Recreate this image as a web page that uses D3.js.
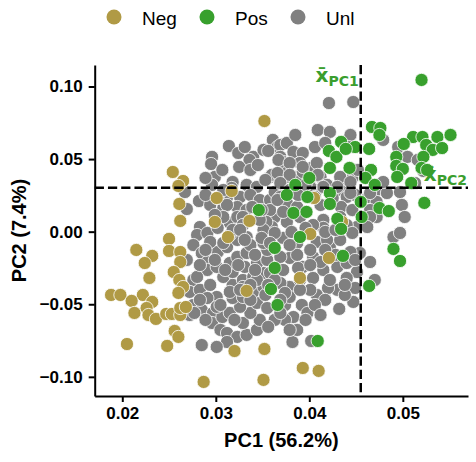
<!DOCTYPE html>
<html lang="en">
<head>
<meta charset="UTF-8">
<title>PCA scatter</title>
<script src="https://d3js.org/d3.v7.min.js"></script>
<style>
  body { margin: 0; background: #fff; }
  svg { display: block; }
  .tick text { font-family: "Liberation Sans", Arial, sans-serif; font-weight: bold; font-size: 17px; fill: #000; }
  .axis-label { font-family: "Liberation Sans", Arial, sans-serif; font-weight: bold; font-size: 20px; }
  .legend text { font-family: "Liberation Sans", Arial, sans-serif; font-size: 19px; }
  .anno { font-family: "DejaVu Sans", sans-serif; font-weight: bold; fill: #3a9e2e; }
</style>
</head>
<body>
<svg id="chart" width="476" height="462"></svg>
<script>
// values: [PC1, PC2]
const negPoints = [
  [0.0352,0.0762],[0.0254,0.0411],[0.0265,0.0349],[0.0260,0.0315],[0.0301,0.0232],[0.0317,0.0280],
  [0.0261,0.0191],[0.0262,0.0074],[0.0299,0.0067],[0.0336,0.0074],[0.0250,-0.0050],[0.0313,-0.0037],
  [0.0215,-0.0126],[0.0232,-0.0167],[0.0224,-0.0216],[0.0250,-0.0133],[0.0262,-0.0140],[0.0262,-0.0209],
  [0.0255,-0.0278],[0.0229,-0.0319],[0.0261,-0.0333],[0.0265,-0.0381],[0.0260,-0.0422],[0.0188,-0.0436],
  [0.0198,-0.0436],[0.0222,-0.0436],[0.0210,-0.0477],[0.0232,-0.0484],[0.0226,-0.0526],[0.0213,-0.0560],
  [0.0228,-0.0574],[0.0236,-0.0601],[0.0247,-0.0567],[0.0253,-0.0567],[0.0262,-0.0574],[0.0262,-0.0526],
  [0.0268,-0.0519],[0.0256,-0.0684],[0.0260,-0.0725],[0.0205,-0.0774],[0.0248,-0.0787],[0.0333,-0.0408],
  [0.0320,-0.0822],[0.0352,-0.0808],[0.0287,-0.1035],[0.0351,-0.1021],[0.0393,-0.0939],[0.0410,-0.0959],
  [0.0401,-0.0016],[0.0421,-0.0181],[0.0390,-0.0319],[0.0435,0.0067],[0.0405,0.0232]
];

const posPoints = [
  [0.0520,0.1045],[0.0467,0.0721],[0.0476,0.0714],[0.0475,0.0666],[0.0434,0.0618],[0.0449,0.0583],
  [0.0464,0.0570],[0.0511,0.0652],[0.0521,0.0652],[0.0537,0.0652],[0.0551,0.0666],[0.0501,0.0604],
  [0.0525,0.0597],[0.0532,0.0563],[0.0542,0.0576],[0.0421,0.0556],[0.0429,0.0515],[0.0439,0.0570],
  [0.0493,0.0515],[0.0522,0.0515],[0.0422,0.0439],[0.0443,0.0439],[0.0466,0.0425],[0.0493,0.0453],
  [0.0500,0.0432],[0.0520,0.0439],[0.0526,0.0425],[0.0494,0.0377],[0.0509,0.0335],[0.0460,0.0370],
  [0.0470,0.0322],[0.0400,0.0370],[0.0385,0.0322],[0.0376,0.0253],[0.0398,0.0239],[0.0422,0.0266],
  [0.0422,0.0191],[0.0455,0.0205],[0.0456,0.0101],[0.0475,0.0163],[0.0485,0.0142],[0.0523,0.0198],
  [0.0383,0.0129],[0.0397,0.0136],[0.0430,0.0088],[0.0434,0.0019],[0.0346,0.0149],[0.0363,-0.0112],
  [0.0363,-0.0250],[0.0359,-0.0395],[0.0366,-0.0505],[0.0390,-0.0037],[0.0436,-0.0167],[0.0464,-0.0374],
  [0.0490,-0.0119],[0.0497,-0.0202],[0.0409,-0.0753]
];

const unlPoints = [
  [0.0421,0.0886],[0.0447,0.0893],[0.0314,0.0590],[0.0324,0.0542],[0.0296,0.0515],[0.0295,0.0466],
  [0.0340,0.0515],[0.0336,0.0494],[0.0325,0.0446],[0.0299,0.0377],[0.0296,0.0322],[0.0318,0.0342],
  [0.0282,0.0211],[0.0269,0.0156],[0.0267,0.0273],[0.0351,0.0563],[0.0361,0.0632],[0.0366,0.0583],
  [0.0358,0.0377],[0.0333,0.0322],[0.0344,0.0308],[0.0312,0.0239],[0.0326,0.0239],[0.0337,0.0253],
  [0.0347,0.0218],[0.0294,0.0184],[0.0308,0.0163],[0.0323,0.0170],[0.0333,0.0149],[0.0358,0.0218],
  [0.0363,0.0273],[0.0283,0.0032],[0.0315,0.0060],[0.0323,0.0101],[0.0363,0.0101],[0.0360,0.0032],
  [0.0356,0.0556],[0.0369,0.0597],[0.0369,0.0515],[0.0372,0.0446],[0.0376,0.0611],[0.0360,0.0391],
  [0.0369,0.0370],[0.0376,0.0377],[0.0317,0.0301],[0.0302,0.0232],[0.0312,0.0184],[0.0358,0.0149],
  [0.0369,0.0239],[0.0376,0.0198],[0.0308,0.0101],[0.0329,0.0101],[0.0354,0.0067],[0.0337,0.0425],
  [0.0385,0.0666],[0.0409,0.0700],[0.0422,0.0687],[0.0444,0.0666],[0.0383,0.0549],[0.0393,0.0542],
  [0.0406,0.0583],[0.0417,0.0611],[0.0372,0.0480],[0.0390,0.0473],[0.0404,0.0446],[0.0377,0.0411],
  [0.0387,0.0377],[0.0393,0.0411],[0.0412,0.0377],[0.0419,0.0322],[0.0408,0.0287],[0.0434,0.0356],
  [0.0446,0.0370],[0.0452,0.0425],[0.0433,0.0287],[0.0440,0.0239],[0.0449,0.0253],[0.0463,0.0239],
  [0.0472,0.0287],[0.0472,0.0205],[0.0412,0.0184],[0.0434,0.0170],[0.0446,0.0149],[0.0465,0.0149],
  [0.0472,0.0101],[0.0433,0.0101],[0.0390,0.0101],[0.0495,0.0583],[0.0505,0.0515],[0.0516,0.0494],
  [0.0522,0.0418],[0.0513,0.0335],[0.0497,0.0273],[0.0499,0.0184],[0.0502,0.0101],[0.0483,0.0266],
  [0.0479,0.0342],[0.0442,0.0583],[0.0479,0.0632],[0.0367,0.0494],[0.0379,0.0473],[0.0393,0.0446],
  [0.0408,0.0473],[0.0366,0.0404],[0.0379,0.0391],[0.0409,0.0391],[0.0433,0.0377],[0.0444,0.0342],
  [0.0369,0.0335],[0.0415,0.0308],[0.0430,0.0308],[0.0444,0.0266],[0.0465,0.0266],[0.0366,0.0218],
  [0.0387,0.0170],[0.0465,0.0101],[0.0415,0.0081],[0.0376,0.0067],[0.0451,0.0032],[0.0490,-0.0037],
  [0.0497,-0.0009],[0.0465,-0.0209],[0.0454,-0.0147],[0.0451,-0.0278],[0.0470,-0.0333],[0.0449,-0.0388],
  [0.0447,-0.0484],[0.0432,-0.0532],[0.0382,-0.0760],[0.0402,-0.0753],[0.0440,-0.0319],[0.0430,-0.0401],
  [0.0420,-0.0388],[0.0408,-0.0436],[0.0392,-0.0505],[0.0383,-0.0588],[0.0374,-0.0608],[0.0398,-0.0560],
  [0.0363,-0.0608],[0.0374,-0.0505],[0.0404,-0.0319],[0.0415,-0.0264],[0.0430,-0.0243],[0.0440,-0.0216],
  [0.0444,-0.0140],[0.0422,-0.0106],[0.0408,-0.0071],[0.0387,-0.0078],[0.0372,-0.0043],[0.0415,0.0026],
  [0.0440,0.0046],[0.0462,0.0032],[0.0379,-0.0181],[0.0372,-0.0264],[0.0393,-0.0243],[0.0379,-0.0381],
  [0.0404,-0.0174],[0.0428,-0.0160],[0.0446,-0.0009],[0.0280,-0.0023],[0.0291,-0.0009],[0.0276,-0.0092],
  [0.0285,-0.0147],[0.0291,-0.0209],[0.0291,-0.0264],[0.0302,-0.0140],[0.0312,-0.0106],[0.0323,-0.0057],
  [0.0333,-0.0037],[0.0351,0.0012],[0.0276,-0.0333],[0.0272,-0.0415],[0.0283,-0.0401],[0.0294,-0.0367],
  [0.0301,-0.0450],[0.0291,-0.0457],[0.0276,-0.0505],[0.0272,-0.0574],[0.0285,-0.0539],[0.0297,-0.0560],
  [0.0296,-0.0629],[0.0307,-0.0588],[0.0305,-0.0677],[0.0312,-0.0698],[0.0323,-0.0725],[0.0312,-0.0760],
  [0.0301,-0.0794],[0.0285,-0.0781],[0.0333,-0.0711],[0.0329,-0.0629],[0.0344,-0.0677],[0.0347,-0.0608],
  [0.0337,-0.0560],[0.0315,-0.0560],[0.0326,-0.0518],[0.0344,-0.0491],[0.0355,-0.0526],[0.0318,-0.0457],
  [0.0329,-0.0450],[0.0340,-0.0415],[0.0351,-0.0381],[0.0318,-0.0367],[0.0329,-0.0333],[0.0340,-0.0312],
  [0.0351,-0.0285],[0.0308,-0.0312],[0.0318,-0.0278],[0.0331,-0.0243],[0.0344,-0.0216],[0.0355,-0.0195],
  [0.0315,-0.0216],[0.0323,-0.0174],[0.0333,-0.0147],[0.0355,-0.0126],[0.0337,-0.0092],[0.0351,-0.0078],
  [0.0363,-0.0009],[0.0315,-0.0023],[0.0294,-0.0071],[0.0308,-0.0078],[0.0318,0.0012],[0.0329,0.0046],
  [0.0347,0.0081],[0.0369,-0.0174],[0.0301,-0.0243],[0.0280,-0.0312],[0.0358,-0.0285],[0.0369,-0.0354],
  [0.0344,-0.0333],[0.0329,-0.0381],[0.0315,-0.0415],[0.0283,-0.0470],[0.0301,-0.0518],[0.0369,-0.0560],
  [0.0269,-0.0195],[0.0419,-0.0057],[0.0401,-0.0126],[0.0387,-0.0160],[0.0412,-0.0209],[0.0390,-0.0333],
  [0.0401,-0.0401],[0.0417,-0.0470],[0.0438,-0.0436],[0.0379,-0.0450],[0.0387,-0.0677],[0.0356,-0.0656],
  [0.0404,0.0046],[0.0401,0.0308],[0.0425,0.0232],
  [0.0331,0.0583],[0.0345,0.0459],[0.0307,0.0425],[0.0289,0.0370],[0.0308,0.0287],[0.0289,0.0253],
  [0.0353,0.0356],[0.0339,0.0170],[0.0299,0.0115],[0.0349,0.0149],[0.0379,0.0287],[0.0396,0.0322],
  [0.0388,0.0253],[0.0406,0.0239],[0.0372,0.0136],[0.0417,-0.0002],[0.0396,0.0026],[0.0381,-0.0002],
  [0.0349,-0.0043],[0.0326,0.0012],[0.0302,0.0026],[0.0289,-0.0126],[0.0299,-0.0195],[0.0310,-0.0264],
  [0.0324,-0.0230],[0.0342,-0.0264],[0.0363,-0.0333],[0.0353,-0.0436],[0.0337,-0.0470],[0.0320,-0.0608],
  [0.0305,-0.0505],[0.0289,-0.0608],[0.0374,-0.0422],[0.0390,-0.0401],[0.0406,-0.0505],[0.0422,-0.0333],
  [0.0438,-0.0367],[0.0412,-0.0574],[0.0396,-0.0608],[0.0379,-0.0677],[0.0369,-0.0470],[0.0337,-0.0367],
  [0.0326,-0.0401],[0.0356,-0.0367],[0.0388,-0.0250],[0.0401,-0.0230],[0.0417,-0.0126],[0.0433,-0.0057],
  [0.0449,-0.0195],[0.0428,0.0012],[0.0379,-0.0092],[0.0358,-0.0078],[0.0342,-0.0160],[0.0331,-0.0057],
  [0.0283,-0.0230],[0.0277,-0.0560]
];

const groups = ["Neg", "Pos", "Unl"];
const groupColors = ["#b09a45", "#38a02d", "#808080"];
const xTicks = [0.02, 0.03, 0.04, 0.05];
const yTicks = [-0.10, -0.05, 0.00, 0.05, 0.10];
const meanPC1 = 0.0455, meanPC2 = 0.0303;

const svg = d3.select("#chart");
const plotLeft = 94.7, plotRight = 468, plotTop = 65, plotBottom = 396;

const x = d3.scaleLinear().domain([0.01705, 0.05697]).range([plotLeft, plotRight]);
const y = d3.scaleLinear().domain([-0.1132, 0.1148]).range([plotBottom, plotTop]);
const color = d3.scaleOrdinal().domain(groups).range(groupColors);

// axes
const xAxis = svg.append("g")
  .attr("transform", `translate(0,${plotBottom})`)
  .call(d3.axisBottom(x).tickValues(xTicks).tickFormat(d3.format(".2f")).tickSize(6).tickPadding(5).tickSizeOuter(0));
const yAxis = svg.append("g")
  .attr("transform", `translate(${plotLeft},0)`)
  .call(d3.axisLeft(y).tickValues(yTicks).tickFormat(d3.format(".2f")).tickSize(6).tickPadding(6).tickSizeOuter(0));
[xAxis, yAxis].forEach(a => {
  a.select(".domain").attr("stroke", "#000").attr("stroke-width", 2);
  a.selectAll(".tick line").attr("stroke", "#000").attr("stroke-width", 2);
});

svg.append("text").attr("class", "axis-label")
  .attr("x", (plotLeft + plotRight) / 2).attr("y", 447)
  .attr("text-anchor", "middle").text("PC1 (56.2%)");
svg.append("text").attr("class", "axis-label")
  .attr("transform", `translate(26,${(plotTop + plotBottom) / 2}) rotate(-90)`)
  .attr("text-anchor", "middle").text("PC2 (7.4%)");

// points
const all = []
  .concat(unlPoints.map(d => ({ g: "Unl", x: d[0], y: d[1] })))
  .concat(negPoints.map(d => ({ g: "Neg", x: d[0], y: d[1] })))
  .concat(posPoints.map(d => ({ g: "Pos", x: d[0], y: d[1] })));

svg.append("g").selectAll("circle")
  .data(all).enter().append("circle")
  .attr("cx", d => x(d.x))
  .attr("cy", d => y(d.y))
  .attr("r", 6.6)
  .attr("fill", d => color(d.g))
  .attr("stroke", "#fff")
  .attr("stroke-width", 0.8);

// mean lines
svg.append("line")
  .attr("x1", x(meanPC1)).attr("x2", x(meanPC1))
  .attr("y1", plotTop).attr("y2", plotBottom)
  .attr("stroke", "#000").attr("stroke-width", 2.5).attr("stroke-dasharray", "9.25,4");
svg.append("line")
  .attr("x1", plotLeft).attr("x2", plotRight)
  .attr("y1", y(meanPC2)).attr("y2", y(meanPC2))
  .attr("stroke", "#000").attr("stroke-width", 2.5).attr("stroke-dasharray", "9.25,4");

function meanLabel(px, py, sub) {
  const t = svg.append("text").attr("class", "anno")
    .attr("x", px).attr("y", py).attr("text-anchor", "end");
  t.append("tspan").attr("font-size", 20).text("x\u0304");
  t.append("tspan").attr("font-size", 14).attr("dy", 4).text(sub);
}
meanLabel(x(meanPC1) - 2, 82, "PC1");
meanLabel(467, 181, "PC2");

// legend
const legend = svg.append("g").attr("class", "legend");
const legendX = [114, 207, 298];
groups.forEach((g, i) => {
  legend.append("circle").attr("cx", legendX[i]).attr("cy", 17).attr("r", 7.5)
    .attr("fill", color(g));
  legend.append("text").attr("x", legendX[i] + 28).attr("y", 24.5).text(g);
});
</script>
</body>
</html>
